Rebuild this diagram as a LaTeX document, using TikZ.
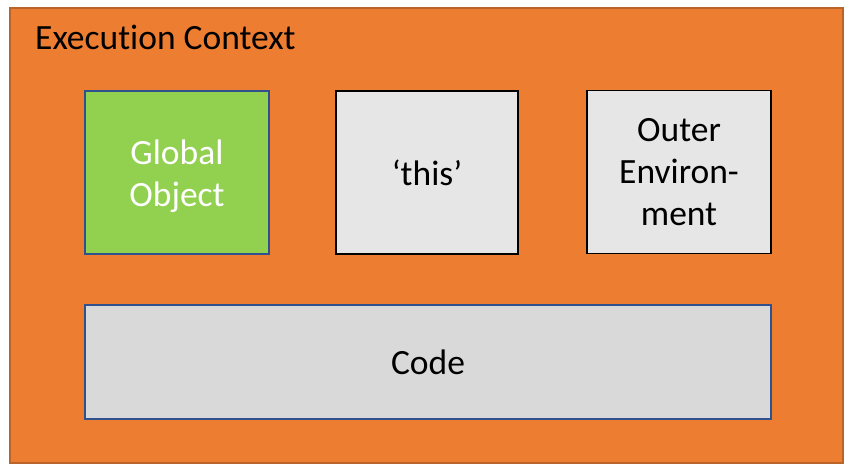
\documentclass[tikz,border=0pt]{standalone}
\usepackage{fontspec}
\setmainfont[Ligatures=NoCommon]{Carlito}
\definecolor{ecorange}{HTML}{ED7D31}
\definecolor{ecorangeline}{HTML}{B9652A}
\definecolor{gogreen}{HTML}{92D050}
\definecolor{boxblue}{HTML}{2F528F}
\definecolor{lightgray}{HTML}{E7E6E6}
\definecolor{codegray}{HTML}{D9D9D9}
\tikzset{
  ctx/.style={draw=ecorangeline, fill=ecorange, line width=1.2pt, inner sep=0pt},
  inner/.style={line width=1.6pt, inner sep=0pt, align=center, font=\fontsize{35.5}{42}\selectfont},
  label text/.style={inner sep=0pt, align=center, font=\fontsize{35.5}{42}\selectfont},
}
\begin{document}
\begin{tikzpicture}[x=1pt,y=-1pt]
\useasboundingbox (0,0) rectangle (852,472);
\node[ctx, minimum width=833pt, minimum height=455pt] (ec) at (426.5,235.5) {};
\node[anchor=base west, inner sep=0pt, font=\fontsize{35.5}{42}\selectfont] (title) at (35,49) {Execu\kern0pt tion Context};
\node[inner, draw=boxblue, fill=gogreen, minimum width=184pt, minimum height=163pt] (global) at (177,172.5) {};
\node[label text, text=white, yshift=-4pt] (globaltext) at (global.center) {Global\\Object};
\node[inner, draw=black, fill=lightgray, minimum width=182pt, minimum height=163pt] (this) at (427,172.5) {‘this’};
\node[inner, draw=black, fill=lightgray, minimum width=184pt, minimum height=163pt] (outer) at (679,172) {Outer\\Environ-\\ment};
\node[inner, draw=boxblue, fill=codegray, minimum width=686pt, minimum height=114pt] (code) at (428,362) {Code};
\end{tikzpicture}
\end{document}
